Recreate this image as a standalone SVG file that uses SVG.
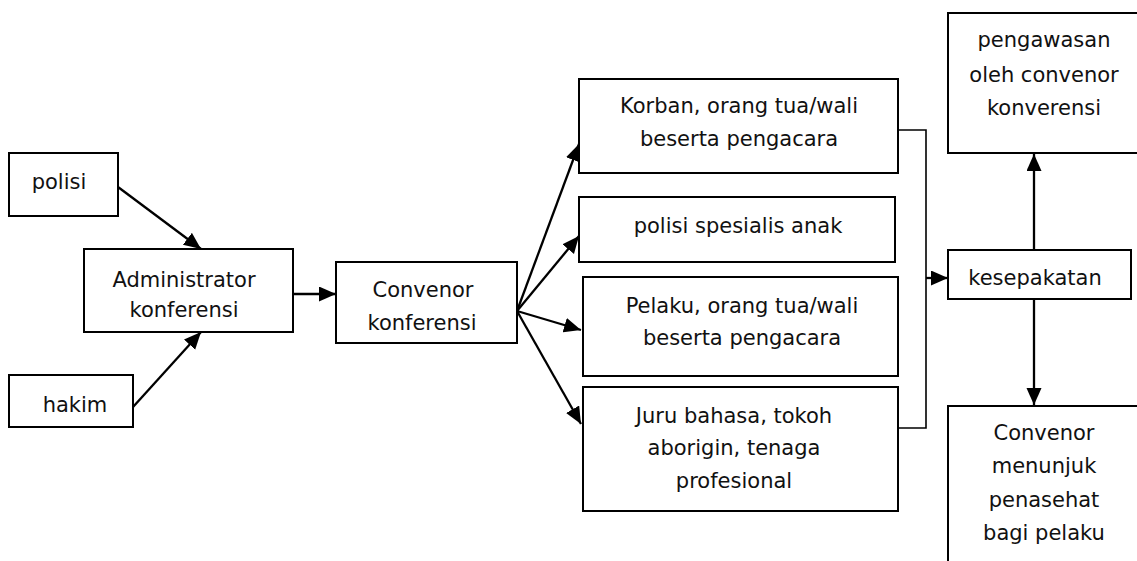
<svg xmlns="http://www.w3.org/2000/svg" width="1137" height="561" viewBox="0 0 1137 561">
  <style>
    .box { fill: #ffffff; stroke: #000000; stroke-width: 2; }
    .lbl { font-family: "DejaVu Sans", Verdana, sans-serif; font-size: 21px; fill: #111111; text-anchor: middle; }
    .arrow { fill: none; stroke: #000000; stroke-width: 2.3; marker-end: url(#head); }
    .wire { fill: none; stroke: #000000; stroke-width: 1.6; }
  </style>
  <defs>
    <marker id="head" markerUnits="userSpaceOnUse" markerWidth="18" markerHeight="16" refX="17" refY="7.5" orient="auto">
      <path d="M0,0 L17,7.5 L0,15 Z" fill="#000000"/>
    </marker>
  </defs>
  <rect width="1137" height="561" fill="#ffffff"/>

  <g id="connectors">
    <line class="arrow" x1="118" y1="187" x2="201" y2="249"/>
    <line class="arrow" x1="133" y1="407" x2="201" y2="332"/>
    <line class="arrow" x1="293" y1="294" x2="336" y2="294"/>
    <line class="arrow" x1="517" y1="311" x2="579" y2="144"/>
    <line class="arrow" x1="517" y1="311" x2="579" y2="236"/>
    <line class="arrow" x1="517" y1="311" x2="581" y2="330"/>
    <line class="arrow" x1="517" y1="311" x2="581" y2="424"/>
    <polyline class="wire" points="898,130 926,130 926,428 898,428"/>
    <line class="arrow" x1="926" y1="278" x2="948" y2="278"/>
    <line class="arrow" x1="1034" y1="250" x2="1034" y2="154"/>
    <line class="arrow" x1="1034" y1="299" x2="1034" y2="405"/>
  </g>

  <g id="polisi">
    <rect class="box" x="9" y="153" width="109" height="63"/>
    <text class="lbl" x="59" y="189">polisi</text>
  </g>
  <g id="hakim">
    <rect class="box" x="9" y="375" width="124" height="52"/>
    <text class="lbl" x="75" y="412">hakim</text>
  </g>
  <g id="administrator">
    <rect class="box" x="84" y="249" width="209" height="83"/>
    <text class="lbl" x="184" y="287">Administrator</text>
    <text class="lbl" x="184" y="317">konferensi</text>
  </g>
  <g id="convenor">
    <rect class="box" x="336" y="262" width="181" height="81"/>
    <text class="lbl" x="423" y="297">Convenor</text>
    <text class="lbl" x="422" y="330">konferensi</text>
  </g>
  <g id="korban">
    <rect class="box" x="579" y="79" width="319" height="94"/>
    <text class="lbl" x="739" y="113">Korban, orang tua/wali</text>
    <text class="lbl" x="739" y="146">beserta pengacara</text>
  </g>
  <g id="polisi-spesialis">
    <rect class="box" x="579" y="197" width="316" height="65"/>
    <text class="lbl" x="738" y="233">polisi spesialis anak</text>
  </g>
  <g id="pelaku">
    <rect class="box" x="583" y="277" width="315" height="99"/>
    <text class="lbl" x="742" y="313">Pelaku, orang tua/wali</text>
    <text class="lbl" x="742" y="345">beserta pengacara</text>
  </g>
  <g id="juru-bahasa">
    <rect class="box" x="583" y="387" width="315" height="124"/>
    <text class="lbl" x="734" y="423">Juru bahasa, tokoh</text>
    <text class="lbl" x="734" y="455">aborigin, tenaga</text>
    <text class="lbl" x="734" y="488">profesional</text>
  </g>
  <g id="pengawasan">
    <rect class="box" x="948" y="13" width="194" height="140"/>
    <text class="lbl" x="1044" y="47">pengawasan</text>
    <text class="lbl" x="1044" y="82">oleh convenor</text>
    <text class="lbl" x="1044" y="115">konverensi</text>
  </g>
  <g id="kesepakatan">
    <rect class="box" x="948" y="250" width="183" height="49"/>
    <text class="lbl" x="1035" y="285">kesepakatan</text>
  </g>
  <g id="penasehat">
    <rect class="box" x="948" y="406" width="194" height="170"/>
    <text class="lbl" x="1044" y="440">Convenor</text>
    <text class="lbl" x="1044" y="473">menunjuk</text>
    <text class="lbl" x="1044" y="507">penasehat</text>
    <text class="lbl" x="1044" y="540">bagi pelaku</text>
  </g>
</svg>
